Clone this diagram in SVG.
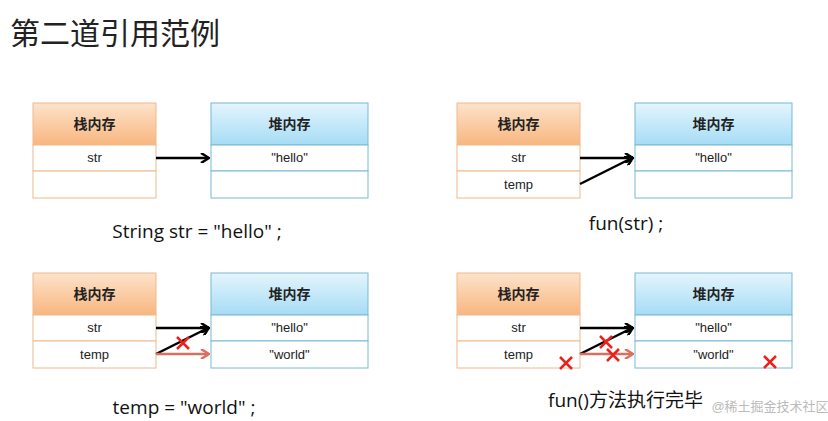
<svg xmlns="http://www.w3.org/2000/svg" width="828" height="421" viewBox="0 0 828 421">
<defs>
<linearGradient id="go" x1="0" y1="0" x2="0" y2="1"><stop offset="0" stop-color="#fde3cc"/><stop offset="1" stop-color="#f8b67f"/></linearGradient>
<linearGradient id="gb" x1="0" y1="0" x2="0" y2="1"><stop offset="0" stop-color="#e4f5fd"/><stop offset="1" stop-color="#a6dcf5"/></linearGradient>
<marker id="ak" markerWidth="10" markerHeight="10" refX="8" refY="5" orient="auto" markerUnits="userSpaceOnUse"><path d="M1,0 L9,5 L1,10" fill="none" stroke="#000" stroke-width="2.5"/></marker>
<marker id="ar" markerWidth="10" markerHeight="10" refX="8" refY="5" orient="auto" markerUnits="userSpaceOnUse"><path d="M1,0 L9,5 L1,10" fill="none" stroke="#d9705f" stroke-width="2.5"/></marker>
<symbol id="x" overflow="visible"><path d="M-6,-6 L6,6 M6,-6 L-6,6" stroke="#e8231b" stroke-width="2.5"/></symbol>
</defs>
<style>
.s{fill:#fff;stroke:#f0b98c;stroke-width:1}
.h{fill:#fff;stroke:#7bb7d6;stroke-width:1}
.so{fill:url(#go);stroke:#f0b98c}
.hb{fill:url(#gb);stroke:#7bb7d6}
text{font-family:"Liberation Sans","Noto Sans CJK SC",sans-serif;font-size:13px;text-anchor:middle;fill:#222}
.t{font-weight:bold;font-size:14px}
.c{font-family:"Open Sans","Noto Sans CJK SC",sans-serif;font-size:19px;fill:#111}
.k{stroke:#000;stroke-width:2.5;fill:none}
.r{stroke:#d9705f;stroke-width:2.5;fill:none}
</style>
<rect width="828" height="421" fill="#fff"/>
<text x="10" y="44" style="font-size:30px;text-anchor:start;font-family:'Noto Sans CJK SC',sans-serif">第二道引用范例</text>

<g id="p1">
<g id="stack1"><rect class="so" x="33" y="103" width="123" height="42"/><rect class="s" x="33" y="145" width="123" height="26"/><rect class="s" x="33" y="171" width="123" height="27"/><text class="t" x="94.5" y="129">栈内存</text><text x="94.5" y="162">str</text></g>
<g id="heap1"><rect class="hb" x="211" y="103" width="157" height="42"/><rect class="h" x="211" y="145" width="157" height="26"/><rect class="h" x="211" y="171" width="157" height="27"/><text class="t" x="289.5" y="129">堆内存</text><text x="289.5" y="162">"hello"</text></g>
<text class="c" x="197" y="238">String str = "hello" ;</text>
</g>

<g id="p2">
<g id="stack2"><rect class="so" x="457" y="103" width="123" height="42"/><rect class="s" x="457" y="145" width="123" height="26"/><rect class="s" x="457" y="171" width="123" height="27"/><text class="t" x="518.5" y="129">栈内存</text><text x="518.5" y="162">str</text><text x="518.5" y="189">temp</text></g>
<g id="heap2"><rect class="hb" x="635" y="103" width="157" height="42"/><rect class="h" x="635" y="145" width="157" height="26"/><rect class="h" x="635" y="171" width="157" height="27"/><text class="t" x="713.5" y="129">堆内存</text><text x="713.5" y="162">"hello"</text></g>
<text class="c" x="626" y="230">fun(str) ;</text>
</g>

<g id="p3">
<g id="stack3"><rect class="so" x="33" y="273" width="123" height="42"/><rect class="s" x="33" y="315" width="123" height="26"/><rect class="s" x="33" y="341" width="123" height="27"/><text class="t" x="94.5" y="299">栈内存</text><text x="94.5" y="332">str</text><text x="94.5" y="359">temp</text></g>
<g id="heap3"><rect class="hb" x="211" y="273" width="157" height="42"/><rect class="h" x="211" y="315" width="157" height="26"/><rect class="h" x="211" y="341" width="157" height="27"/><text class="t" x="289.5" y="299">堆内存</text><text x="289.5" y="332">"hello"</text><text x="289.5" y="359">"world"</text></g>
<text class="c" x="184" y="414">temp = "world" ;</text>
</g>

<g id="p4">
<g id="stack4"><rect class="so" x="457" y="273" width="123" height="42"/><rect class="s" x="457" y="315" width="123" height="26"/><rect class="s" x="457" y="341" width="123" height="27"/><text class="t" x="518.5" y="299">栈内存</text><text x="518.5" y="332">str</text><text x="518.5" y="359">temp</text></g>
<g id="heap4"><rect class="hb" x="635" y="273" width="157" height="42"/><rect class="h" x="635" y="315" width="157" height="26"/><rect class="h" x="635" y="341" width="157" height="27"/><text class="t" x="713.5" y="299">堆内存</text><text x="713.5" y="332">"hello"</text><text x="713.5" y="359">"world"</text></g>
<text class="c" x="548" y="407" style="text-anchor:start">fun()方法执行完毕</text>
<text x="770" y="411" style="font-size:13px;fill:#bbb">@稀土掘金技术社区</text>
</g>

<g id="connectors">
<line class="k" x1="156" y1="158" x2="208" y2="158" marker-end="url(#ak)"/>
<line class="k" x1="580" y1="158" x2="632" y2="158" marker-end="url(#ak)"/>
<line class="k" x1="580" y1="184" x2="632" y2="158" marker-end="url(#ak)"/>
<line class="k" x1="156" y1="328" x2="208" y2="328" marker-end="url(#ak)"/>
<line class="k" x1="156" y1="354" x2="208" y2="328" marker-end="url(#ak)"/>
<line class="r" x1="156" y1="354" x2="208" y2="354" marker-end="url(#ar)"/>
<line class="k" x1="580" y1="328" x2="632" y2="328" marker-end="url(#ak)"/>
<line class="k" x1="580" y1="354" x2="632" y2="328" marker-end="url(#ak)"/>
<line class="r" x1="580" y1="354" x2="632" y2="354" marker-end="url(#ar)"/>
<use href="#x" x="183" y="343"/>
<use href="#x" x="606" y="342"/>
<use href="#x" x="613" y="355"/>
<use href="#x" x="566" y="363"/>
<use href="#x" x="770" y="362"/>
</g>
</svg>
